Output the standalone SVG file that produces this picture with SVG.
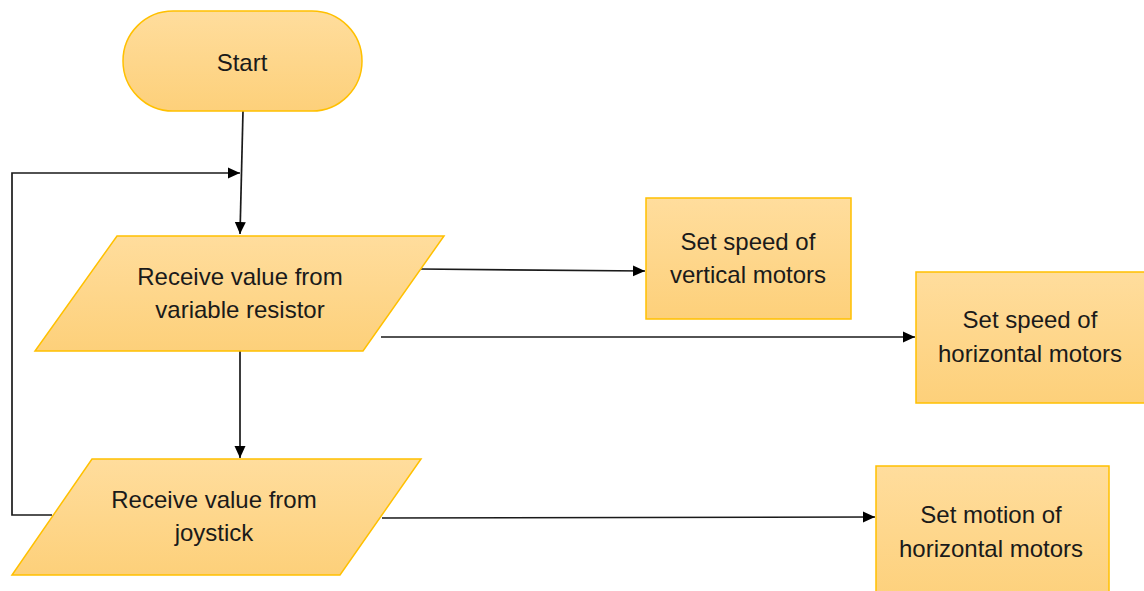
<svg xmlns="http://www.w3.org/2000/svg" width="1144" height="591" viewBox="0 0 1144 591">
<defs>
<linearGradient id="g" x1="0" y1="0" x2="0" y2="1">
<stop offset="0" stop-color="#FFDD9D"/>
<stop offset="1" stop-color="#FDD07A"/>
</linearGradient>
<marker id="arr" markerWidth="13" markerHeight="12" refX="12" refY="6" orient="auto" markerUnits="userSpaceOnUse">
<path d="M0,0.5 L12,6 L0,11.5 Z" fill="#000"/>
</marker>
<style>
.n{fill:url(#g);stroke:#FFC000;stroke-width:1.5}
.t{font-family:"Liberation Sans",Arial,sans-serif;font-size:24px;fill:#1a1a1a;text-anchor:middle}
.c{fill:none;stroke:#1a1a1a;stroke-width:1.7}
</style>
</defs>
<rect width="1144" height="591" fill="#fff"/>
<g id="connectors">
<path class="c" d="M243,111 L240,234" marker-end="url(#arr)"/>
<path class="c" d="M52,515 L12,515 L12,173 L240,173" marker-end="url(#arr)"/>
<path class="c" d="M240,351 L240,458" marker-end="url(#arr)"/>
<path class="c" d="M420,269 L645,271" marker-end="url(#arr)"/>
<path class="c" d="M381,337 L915,337" marker-end="url(#arr)"/>
<path class="c" d="M382,518 L875,517" marker-end="url(#arr)"/>
</g>
<g id="start">
<rect class="n" x="123" y="11" width="239" height="100" rx="50" ry="50"/>
<text class="t" x="242" y="71">Start</text>
</g>
<g id="recv-resistor">
<polygon class="n" points="117,236 444,236 363,351 35,351"/>
<text class="t" x="240" y="285">Receive value from</text>
<text class="t" x="240" y="318">variable resistor</text>
</g>
<g id="recv-joystick">
<polygon class="n" points="92,459 421,459 340,575 12,575"/>
<text class="t" x="214" y="508">Receive value from</text>
<text class="t" x="214" y="541">joystick</text>
</g>
<g id="vertical-speed">
<rect class="n" x="646" y="198" width="205" height="121"/>
<text class="t" x="748" y="250">Set speed of</text>
<text class="t" x="748" y="283">vertical motors</text>
</g>
<g id="horizontal-speed">
<rect class="n" x="916" y="272" width="240" height="131"/>
<text class="t" x="1030" y="328">Set speed of</text>
<text class="t" x="1030" y="362">horizontal motors</text>
</g>
<g id="horizontal-motion">
<rect class="n" x="876" y="466" width="233" height="140"/>
<text class="t" x="991" y="523">Set motion of</text>
<text class="t" x="991" y="557">horizontal motors</text>
</g>
</svg>
